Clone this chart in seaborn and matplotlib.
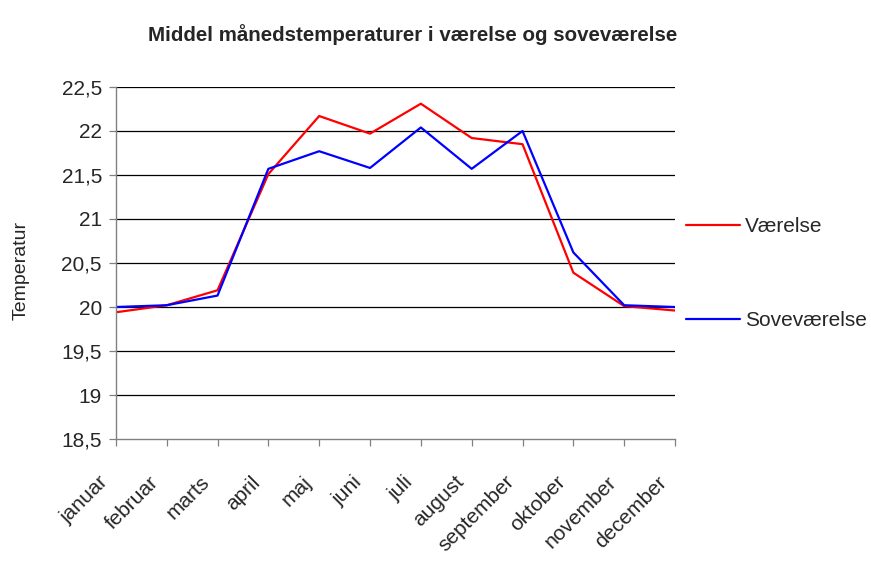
import matplotlib
matplotlib.use("Agg")
import matplotlib.pyplot as plt
import matplotlib.transforms as mtransforms
from matplotlib.ticker import FuncFormatter
import pandas as pd
import seaborn as sns

months = ["januar", "februar", "marts", "april", "maj", "juni",
          "juli", "august", "september", "oktober", "november", "december"]
vaerelse = [19.94, 20.02, 20.19, 21.51, 22.17, 21.97,
            22.31, 21.92, 21.85, 20.39, 20.01, 19.96]
sovevaerelse = [20.00, 20.02, 20.13, 21.57, 21.77, 21.58,
                22.04, 21.57, 22.00, 20.62, 20.02, 20.00]
series = ["Værelse", "Soveværelse"]
colors = ["#ff0000", "#0000ff"]
y_ticks = [18.5, 19, 19.5, 20, 20.5, 21, 21.5, 22, 22.5]

df = pd.DataFrame({
    "x": list(range(len(months))) * 2,
    "temp": vaerelse + sovevaerelse,
    "serie": [series[0]] * len(months) + [series[1]] * len(months),
})

sns.set_style("white")
plt.rcParams["font.family"] = ["Liberation Sans", "DejaVu Sans"]

fig = plt.figure(figsize=(8.71, 5.67), dpi=100)
ax = fig.add_axes([0.133, 0.2257, 0.642, 0.6209])

sns.lineplot(data=df, x="x", y="temp", hue="serie", palette=colors,
             linewidth=1.6, ax=ax, legend=False)

ax.set_xlim(0, len(months) - 1)
ax.set_ylim(18.5, 22.5)
ax.set_yticks(y_ticks)
ax.yaxis.set_major_formatter(FuncFormatter(lambda v, p: f"{v:g}".replace(".", ",")))
for y in y_ticks[1:]:
    ax.axhline(y, color="black", linewidth=0.9, zorder=0)

ax.set_xticks(range(len(months)))
ax.tick_params(axis="x", length=5, width=0.9, color="#808080", direction="out",
               pad=19, labelsize=15)
ax.tick_params(axis="y", length=5, width=0.9, color="#808080", direction="out",
               labelsize=15, pad=5)
ax.tick_params(bottom=True, left=True)
ax.set_xticklabels(months, rotation=45, ha="right", va="top",
                   rotation_mode="anchor")
# labels end a little left of their tick, as in the original
# (done after tick_params, which resets the label transforms)
shift = mtransforms.ScaledTranslation(-0.175, 0, fig.dpi_scale_trans)
for lbl in ax.get_xticklabels():
    lbl.set_transform(lbl.get_transform() + shift)

for s in ["top", "right"]:
    ax.spines[s].set_visible(False)
for s in ["left", "bottom"]:
    ax.spines[s].set_color("#808080")
    ax.spines[s].set_linewidth(1.0)

ax.set_xlabel("")
ax.set_ylabel("Temperatur", fontsize=14)
ax.yaxis.set_label_coords(-0.154, 0.48)

handles = [plt.Line2D([], [], color=c, linewidth=1.6) for c in colors]
fig.legend(handles, series, loc="center left", bbox_to_anchor=(0.7876, 0.5176),
           frameon=False, fontsize=15, handlelength=2.6, handletextpad=0.25,
           labelspacing=3.6, borderpad=0, borderaxespad=0)

fig.text(0.474, 0.94, "Middel månedstemperaturer i værelse og soveværelse",
         ha="center", va="center", fontsize=14.8, fontweight="bold")

fig.savefig("out.png", dpi=100)
